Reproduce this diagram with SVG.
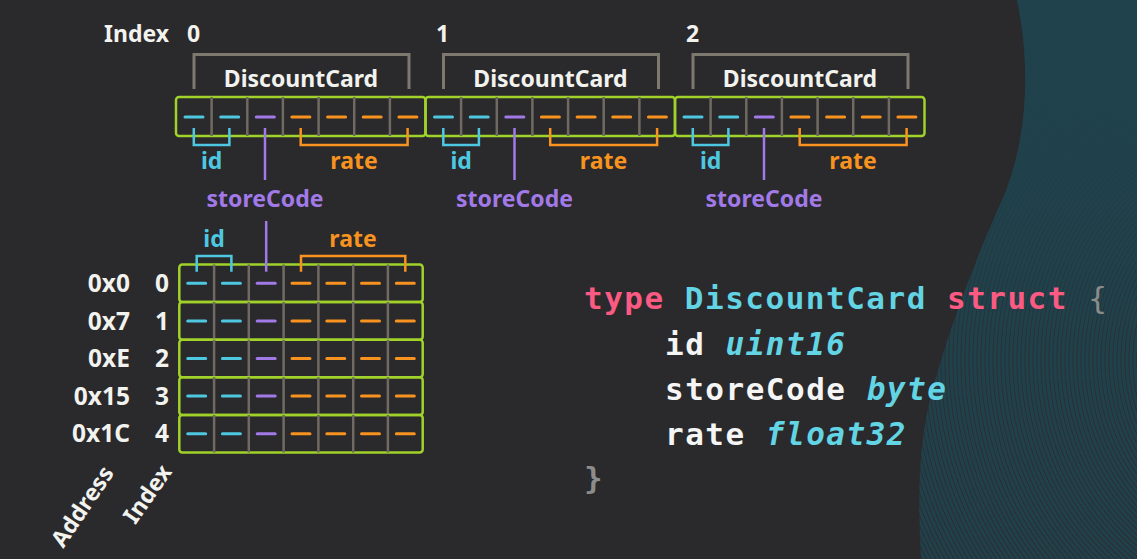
<svg xmlns="http://www.w3.org/2000/svg" width="1137" height="559" viewBox="0 0 1137 559">
<defs>
<style>
.lbl{font-family:"Noto Sans","Open Sans",sans-serif;font-weight:700;font-size:23px;}
.big{font-size:24.5px;}
.w{fill:#f2f2ee;}
.cy{fill:#4ec8e0;}
.pu{fill:#a27ae8;}
.or{fill:#f7931e;}
.box{fill:none;stroke:#a0d22a;stroke-width:2.5;}
.div{stroke:#6f6b62;stroke-width:2.5;}
.dc{stroke:#4ec8e0;stroke-width:3;stroke-linecap:round;}
.dp{stroke:#a27ae8;stroke-width:3;stroke-linecap:round;}
.do{stroke:#f7931e;stroke-width:3;stroke-linecap:round;}
.bg{fill:none;stroke:#7d796e;stroke-width:3;}
.bc{fill:none;stroke:#4ec8e0;stroke-width:2.5;}
.bp{fill:none;stroke:#a27ae8;stroke-width:2.5;}
.bo{fill:none;stroke:#f7931e;stroke-width:2.5;}
.code{font-family:"DejaVu Sans Mono","Liberation Mono",monospace;font-weight:700;font-size:31px;letter-spacing:1.5px;}
</style>
<radialGradient id="rings" gradientUnits="userSpaceOnUse" cx="1300" cy="360" r="4" spreadMethod="repeat">
<stop offset="0" stop-color="#20414b"/>
<stop offset="0.55" stop-color="#20414b"/>
<stop offset="0.7" stop-color="#2b2e32"/>
<stop offset="0.82" stop-color="#2b2e32"/>
<stop offset="1" stop-color="#20414b"/>
</radialGradient>
<linearGradient id="fade" gradientUnits="userSpaceOnUse" x1="0" y1="0" x2="0" y2="559">
<stop offset="0" stop-color="#1f424c" stop-opacity="1"/>
<stop offset="0.3" stop-color="#1f424c" stop-opacity="0.85"/>
<stop offset="0.6" stop-color="#1f424c" stop-opacity="0.25"/>
<stop offset="1" stop-color="#1f424c" stop-opacity="0.05"/>
</linearGradient>
</defs>
<rect width="1137" height="559" fill="#2a292c"/>
<g id="decoration">
<path d="M1017 0 C1030 60 1030 140 1000 205 C975 260 945 340 930 400 C918 450 918 500 921 559 L1137 559 L1137 0 Z" fill="url(#rings)"/>
<path d="M1017 0 C1030 60 1030 140 1000 205 C975 260 945 340 930 400 C918 450 918 500 921 559 L1137 559 L1137 0 Z" fill="url(#fade)"/>
</g>

<g id="array-index-labels">
<text class="lbl w" x="104" y="42">Index</text>
<text class="lbl w" x="187" y="42">0</text>
<text class="lbl w" x="436" y="42">1</text>
<text class="lbl w" x="686" y="42">2</text>
</g>

<g id="card0">
<rect class="box" x="176" y="97" width="249.5" height="39" rx="3"/>
<path class="div" d="M211.6 97V136M247.3 97V136M282.9 97V136M318.6 97V136M354.2 97V136M389.9 97V136"/>
<path class="dc" d="M185 117H203M220.7 117H238.7"/>
<path class="dp" d="M256.3 117H274.3"/>
<path class="do" d="M291.9 117H309.9M327.6 117H345.6M363.2 117H381.2M398.9 117H416.9"/>
<text class="lbl w" x="301" y="87" text-anchor="middle">DiscountCard</text>
<text class="lbl cy" x="211.6" y="169" text-anchor="middle">id</text>
<text class="lbl or" x="354" y="169" text-anchor="middle">rate</text>
<text class="lbl pu" x="265" y="207" text-anchor="middle">storeCode</text>
</g>

<g id="card1">
<rect class="box" x="425.5" y="97" width="249.5" height="39" rx="3"/>
<path class="div" d="M461.1 97V136M496.8 97V136M532.4 97V136M568.1 97V136M603.7 97V136M639.4 97V136"/>
<path class="dc" d="M434.5 117H452.5M470.2 117H488.2"/>
<path class="dp" d="M505.8 117H523.8"/>
<path class="do" d="M541.4 117H559.4M577.1 117H595.1M612.7 117H630.7M648.4 117H666.4"/>
<text class="lbl w" x="550.5" y="87" text-anchor="middle">DiscountCard</text>
<text class="lbl cy" x="461.1" y="169" text-anchor="middle">id</text>
<text class="lbl or" x="603.5" y="169" text-anchor="middle">rate</text>
<text class="lbl pu" x="514.5" y="207" text-anchor="middle">storeCode</text>
</g>

<g id="card2">
<rect class="box" x="675" y="97" width="249.5" height="39" rx="3"/>
<path class="div" d="M710.6 97V136M746.3 97V136M781.9 97V136M817.6 97V136M853.2 97V136M888.9 97V136"/>
<path class="dc" d="M684 117H702M719.7 117H737.7"/>
<path class="dp" d="M755.3 117H773.3"/>
<path class="do" d="M790.9 117H808.9M826.6 117H844.6M862.2 117H880.2M897.9 117H915.9"/>
<text class="lbl w" x="800" y="87" text-anchor="middle">DiscountCard</text>
<text class="lbl cy" x="710.6" y="169" text-anchor="middle">id</text>
<text class="lbl or" x="853" y="169" text-anchor="middle">rate</text>
<text class="lbl pu" x="764" y="207" text-anchor="middle">storeCode</text>
</g>

<g id="table">
<g id="row0">
<rect class="box" x="179.3" y="264.5" width="243.4" height="37.6" rx="3"/>
<path class="div" d="M214.1 264.5v37.6M248.8 264.5v37.6M283.6 264.5v37.6M318.4 264.5v37.6M353.2 264.5v37.6M387.9 264.5v37.6"/>
<path class="dc" d="M187.7 283.3h18M222.4 283.3h18"/><path class="dp" d="M257.2 283.3h18"/><path class="do" d="M292 283.3h18M326.8 283.3h18M361.5 283.3h18M396.3 283.3h18"/>
</g>
<g id="row1">
<rect class="box" x="179.3" y="302.1" width="243.4" height="37.6" rx="3"/>
<path class="div" d="M214.1 302.1v37.6M248.8 302.1v37.6M283.6 302.1v37.6M318.4 302.1v37.6M353.2 302.1v37.6M387.9 302.1v37.6"/>
<path class="dc" d="M187.7 320.9h18M222.4 320.9h18"/><path class="dp" d="M257.2 320.9h18"/><path class="do" d="M292 320.9h18M326.8 320.9h18M361.5 320.9h18M396.3 320.9h18"/>
</g>
<g id="row2">
<rect class="box" x="179.3" y="339.7" width="243.4" height="37.6" rx="3"/>
<path class="div" d="M214.1 339.7v37.6M248.8 339.7v37.6M283.6 339.7v37.6M318.4 339.7v37.6M353.2 339.7v37.6M387.9 339.7v37.6"/>
<path class="dc" d="M187.7 358.5h18M222.4 358.5h18"/><path class="dp" d="M257.2 358.5h18"/><path class="do" d="M292 358.5h18M326.8 358.5h18M361.5 358.5h18M396.3 358.5h18"/>
</g>
<g id="row3">
<rect class="box" x="179.3" y="377.3" width="243.4" height="37.6" rx="3"/>
<path class="div" d="M214.1 377.3v37.6M248.8 377.3v37.6M283.6 377.3v37.6M318.4 377.3v37.6M353.2 377.3v37.6M387.9 377.3v37.6"/>
<path class="dc" d="M187.7 396.1h18M222.4 396.1h18"/><path class="dp" d="M257.2 396.1h18"/><path class="do" d="M292 396.1h18M326.8 396.1h18M361.5 396.1h18M396.3 396.1h18"/>
</g>
<g id="row4">
<rect class="box" x="179.3" y="414.9" width="243.4" height="37.6" rx="3"/>
<path class="div" d="M214.1 414.9v37.6M248.8 414.9v37.6M283.6 414.9v37.6M318.4 414.9v37.6M353.2 414.9v37.6M387.9 414.9v37.6"/>
<path class="dc" d="M187.7 433.7h18M222.4 433.7h18"/><path class="dp" d="M257.2 433.7h18"/><path class="do" d="M292 433.7h18M326.8 433.7h18M361.5 433.7h18M396.3 433.7h18"/>
</g>
<text class="lbl cy" x="214" y="246.7" text-anchor="middle">id</text>
<text class="lbl or" x="353" y="246.7" text-anchor="middle">rate</text>
</g>

<g id="address-labels">
<text class="lbl big w" x="130" y="292" text-anchor="end">0x0</text>
<text class="lbl big w" x="130" y="329.6" text-anchor="end">0x7</text>
<text class="lbl big w" x="130" y="367.2" text-anchor="end">0xE</text>
<text class="lbl big w" x="130" y="404.8" text-anchor="end">0x15</text>
<text class="lbl big w" x="130" y="442.4" text-anchor="end">0x1C</text>
<text class="lbl w" x="89" y="511" text-anchor="middle" transform="rotate(-56 89 511)">Address</text>
</g>
<g id="index-labels">
<text class="lbl big w" x="162" y="292" text-anchor="middle">0</text>
<text class="lbl big w" x="162" y="329.6" text-anchor="middle">1</text>
<text class="lbl big w" x="162" y="367.2" text-anchor="middle">2</text>
<text class="lbl big w" x="162" y="404.8" text-anchor="middle">3</text>
<text class="lbl big w" x="162" y="442.4" text-anchor="middle">4</text>
<text class="lbl w" x="154" y="498.6" text-anchor="middle" transform="rotate(-55 154 498.6)">Index</text>
</g>

<g id="connectors">
<path class="bg" d="M194 89V54.5H409V89"/>
<path class="bg" d="M443.5 89V54.5H658.5V89"/>
<path class="bg" d="M693 89V54.5H908V89"/>
<path class="bc" d="M193.8 128V145H229.4V128"/>
<path class="bo" d="M300.7 128V145H407.6V128"/>
<path class="bp" d="M265 128V180"/>
<path class="bc" d="M443.3 128V145H478.9V128"/>
<path class="bo" d="M550.2 128V145H657.1V128"/>
<path class="bp" d="M514.5 128V180"/>
<path class="bc" d="M692.8 128V145H728.4V128"/>
<path class="bo" d="M799.7 128V145H906.6V128"/>
<path class="bp" d="M764 128V180"/>
<path class="bc" d="M196.7 271.7V256H231.4V271.7"/>
<path class="bo" d="M301 271.7V256H405.3V271.7"/>
<path class="bp" d="M266.2 221V271.7"/>
</g>

<g id="code">
<text class="code" x="584" y="309"><tspan fill="#fb5b82">type</tspan> <tspan fill="#62d4e3">DiscountCard</tspan> <tspan fill="#fb5b82">struct</tspan> <tspan fill="#8c8c8c" font-weight="400">{</tspan></text>
<text class="code" x="665" y="355"><tspan fill="#f5f5f5">id</tspan> <tspan fill="#62d4e3" font-style="italic">uint16</tspan></text>
<text class="code" x="665" y="400"><tspan fill="#f5f5f5">storeCode</tspan> <tspan fill="#62d4e3" font-style="italic">byte</tspan></text>
<text class="code" x="665" y="445"><tspan fill="#f5f5f5">rate</tspan> <tspan fill="#62d4e3" font-style="italic">float32</tspan></text>
<text class="code" x="584" y="489" fill="#8c8c8c" font-weight="400">}</text>
</g>
</svg>
